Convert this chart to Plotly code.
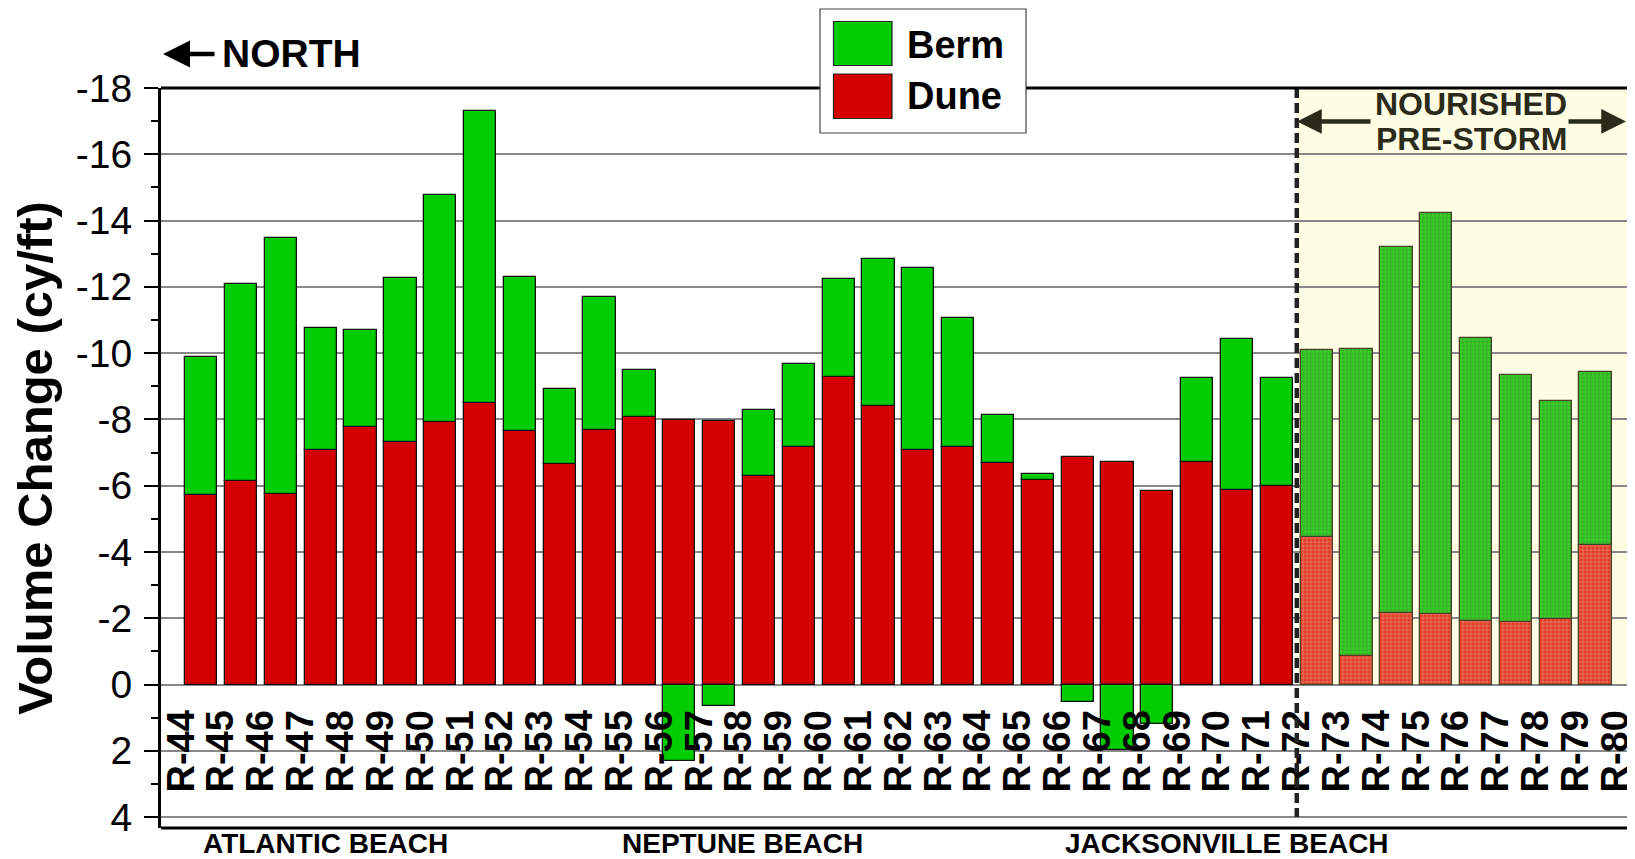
import plotly.graph_objects as go

# ---------------- data ----------------
profiles = [f"R-{n}" for n in range(44, 81)]          # 37 monument labels
dune = [-5.71, -6.15, -5.76, -7.07, -7.76, -7.33, -7.92, -8.49, -7.64, -6.66,
        -7.67, -8.07, -7.97, -7.96, -6.30, -7.17, -9.27, -8.39, -7.08, -7.17,
        -6.67, -6.18, -6.86, -6.70, -5.85, -6.72, -5.86, -6.00, -4.44, -0.87,
        -2.17, -2.13, -1.93, -1.90, -1.97, -4.22]
berm = [-4.17, -5.95, -7.72, -3.69, -2.94, -4.94, -6.86, -8.81, -4.66, -2.26,
        -4.03, -1.42, 2.32, 0.65, -1.99, -2.51, -2.97, -4.46, -5.49, -3.89,
        -1.47, -0.18, 0.53, 1.99, 1.19, -2.52, -4.58, -3.24, -5.66, -9.25,
        -11.02, -12.09, -8.54, -7.43, -6.59, -5.21]
nourished_from = 28          # index of R-72 (start of nourished reach)
beaches = ["ATLANTIC BEACH", "NEPTUNE BEACH", "JACKSONVILLE BEACH"]
beach_pos = [3.63, 14.09, 26.25]
yticks = list(range(-18, 5, 2))

# ---------------- layout constants (page pixels) ----------------
PAGE_W, PAGE_H = 1635, 859
OFF = 8                       # default body margin of the html page
W, H = PAGE_W - OFF, PAGE_H - OFF
L, R, T, B = 161, 1635, 87.5, 827.7
YMIN, YMAX = -18, 4.33
XMIN, XMAX = -0.51, 36.49
FONT = "Liberation Sans, Arial, sans-serif"

def pxx(xp):
    return (xp - L) / (R - L)

def pxy(yp):
    return (B - yp) / (B - T)

n = len(dune)
xs = [i + 0.5 for i in range(n)]
nour = [i >= nourished_from for i in range(n)]

green, red = "#00cc00", "#d40000"
green_h, red_h = "#36cf26", "#e23c26"

def colors(base, hatched):
    return [hatched if f else base for f in nour]

fig = go.Figure()
for name, vals, c, ch in [("Dune", dune, red, red_h), ("Berm", berm, green, green_h)]:
    fig.add_trace(go.Bar(
        x=xs, y=vals, name=name, width=0.81, showlegend=False,
        marker=dict(
            color=colors(c, ch),
            line=dict(color=["#4a3f25" if f else "#111" for f in nour], width=1.3),
            pattern=dict(shape=["+" if f else "" for f in nour],
                         fgcolor="#ffff8a", fgopacity=0.45, size=4, solidity=0.25),
        ),
    ))

shapes = [
    # nourished background
    dict(type="rect", xref="x", yref="y", x0=nourished_from, x1=XMAX, y0=YMIN, y1=0,
         fillcolor="#fffde4", line=dict(width=0), layer="below"),
    # dashed divider
    dict(type="line", xref="x", yref="y", x0=nourished_from, x1=nourished_from, y0=YMIN, y1=4,
         line=dict(color="#222", width=4.5, dash="10px,5px"), layer="above"),
    # top and bottom borders
    dict(type="line", xref="paper", yref="paper", x0=0, x1=1, y0=1, y1=1,
         line=dict(color="black", width=3)),
    dict(type="line", xref="paper", yref="paper", x0=0, x1=1, y0=0, y1=0,
         line=dict(color="black", width=3)),
    # legend box and swatches
    dict(type="rect", xref="paper", yref="paper", x0=pxx(820), x1=pxx(1026), y0=pxy(132.5), y1=pxy(8.5),
         fillcolor="white", line=dict(color="#444", width=1.2)),
    dict(type="rect", xref="paper", yref="paper", x0=pxx(833.5), x1=pxx(892), y0=pxy(65), y1=pxy(21),
         fillcolor=green, line=dict(color="#222", width=1.2)),
    dict(type="rect", xref="paper", yref="paper", x0=pxx(833.5), x1=pxx(892), y0=pxy(118), y1=pxy(73.5),
         fillcolor=red, line=dict(color="#222", width=1.2)),
]

ann = []
for t, yp in [("Berm", 44), ("Dune", 96)]:
    ann.append(dict(text=t, xref="paper", yref="paper", x=pxx(905), y=pxy(yp),
                    xanchor="left", yanchor="middle", showarrow=False,
                    font=dict(family=FONT, size=38, color="black", weight="bold")))
# NORTH
ann.append(dict(text="NORTH", xref="paper", yref="paper", x=pxx(220), y=pxy(53),
                xanchor="left", yanchor="middle", showarrow=False,
                font=dict(family=FONT, size=39, color="black", weight="bold")))
ann.append(dict(text="", xref="paper", yref="paper", x=pxx(163), y=pxy(53.5),
                ax=216 - 163, ay=0, axref="pixel", ayref="pixel",
                showarrow=True, arrowhead=2, arrowsize=1.2, arrowwidth=4.5, arrowcolor="black"))
# nourished label
olive = "#2b2b1c"
for t, yp in [("NOURISHED", 103.5), ("PRE-STORM", 138.5)]:
    ann.append(dict(text=t, xref="paper", yref="paper", x=pxx(1471), y=pxy(yp),
                    xanchor="center", yanchor="middle", showarrow=False,
                    font=dict(family=FONT, size=32, color=olive, weight="bold")))
ann.append(dict(text="", xref="paper", yref="paper", x=pxx(1297), y=pxy(121),
                ax=1372 - 1297, ay=0, axref="pixel", ayref="pixel",
                showarrow=True, arrowhead=2, arrowsize=1.1, arrowwidth=4.5, arrowcolor=olive))
ann.append(dict(text="", xref="paper", yref="paper", x=pxx(1626), y=pxy(121),
                ax=1567 - 1626, ay=0, axref="pixel", ayref="pixel",
                showarrow=True, arrowhead=2, arrowsize=1.1, arrowwidth=4.5, arrowcolor=olive))
# beach names
for t, xv in zip(beaches, beach_pos):
    ann.append(dict(text=t, xref="x", yref="paper", x=xv, y=pxy(843),
                    xanchor="center", yanchor="middle", showarrow=False,
                    font=dict(family=FONT, size=28, color="black", weight="bold")))

zero_pos = (YMAX - 0) / (YMAX - YMIN)

fig.update_layout(
    width=W, height=H,
    margin=dict(l=L - OFF, r=0, t=T - OFF, b=PAGE_H - B, autoexpand=False),
    paper_bgcolor="white", plot_bgcolor="white",
    barmode="relative", bargap=0,
    shapes=shapes, annotations=ann,
    font=dict(family=FONT, color="black"),
    xaxis=dict(
        range=[XMIN, XMAX], tickmode="array", tickvals=list(range(len(profiles))),
        ticktext=profiles, tickangle=-90, anchor="free", position=zero_pos,
        showline=False, showgrid=False, zeroline=False, ticks="",
        ticklabelstandoff=17, automargin=False, ticklabeloverflow="allow",
        tickfont=dict(family=FONT, size=38, color="black", weight="bold"),
    ),
    yaxis=dict(
        range=[YMAX, YMIN], tickmode="array", tickvals=yticks,
        ticktext=[str(v) for v in yticks],
        ticks="outside", ticklen=14, tickwidth=2, tickcolor="black",
        showline=True, linewidth=3, linecolor="black",
        showgrid=True, gridcolor="#888", gridwidth=1.5, zeroline=False,
        minor=dict(tickvals=list(range(-17, 4, 2)), ticks="outside", ticklen=7,
                   tickwidth=2, tickcolor="black", showgrid=False),
        tickfont=dict(family=FONT, size=39, color="black"),
        ticklabelstandoff=4, automargin=False,
        title=dict(text="Volume Change (cy/ft)", standoff=11,
                   font=dict(family=FONT, size=49, color="black", weight="bold")),
    ),
)

fig.write_html("out.html")
